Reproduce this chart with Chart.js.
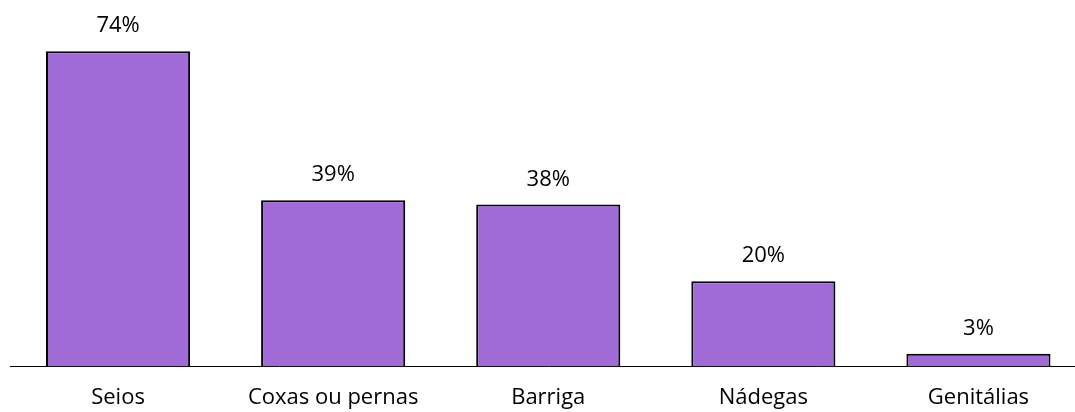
<!DOCTYPE html>
<html>
<head>
<meta charset="utf-8">
<script src="https://cdn.jsdelivr.net/npm/chart.js@4.4.1/dist/chart.umd.min.js"></script>
<style>
    html, body { margin: 0; padding: 0; background: #fff; overflow: hidden; }
    .chart-box { width: 1086px; height: 429px; }
</style>
</head>
<body>
<div class="chart-box"><canvas id="bodyChart"></canvas></div>
<script>
const categories = ['Seios', 'Coxas ou pernas', 'Barriga', 'Nádegas', 'Genitálias'];
const percentValues = [74, 39, 38, 20, 3];

const FONT = '"Open Sans", "DejaVu Sans", sans-serif';

// writes the "NN%" over every bar
const valueLabels = {
    id: 'valueLabels',
    afterDatasetsDraw(chart) {
        const ctx = chart.ctx;
        const meta = chart.getDatasetMeta(0);
        ctx.save();
        ctx.font = '22px ' + FONT;
        ctx.fillStyle = '#000';
        ctx.textAlign = 'center';
        ctx.textBaseline = 'alphabetic';
        meta.data.forEach((bar, i) => {
            ctx.fillText(percentValues[i] + '%', bar.x, bar.y - 19);
        });
        ctx.restore();
    }
};

const ctx = document.querySelector('#bodyChart');
new Chart(ctx, {
    type: 'bar',
    data: {
        labels: categories,
        datasets: [{
            data: percentValues,
            backgroundColor: '#A06AD7',
            borderColor: '#000',
            borderWidth: 2,
            borderSkipped: 'bottom',
            barPercentage: 0.67,
            categoryPercentage: 1
        }]
    },
    options: {
        responsive: true,
        maintainAspectRatio: false,
        animation: false,
        layout: { padding: { left: 10.5, right: 0, top: 0, bottom: 0 } },
        plugins: {
            legend: { display: false },
            tooltip: { enabled: false }
        },
        scales: {
            y: {
                display: false,
                min: 0,
                max: 86
            },
            x: {
                grid: { display: false, drawTicks: false },
                border: { display: true, color: '#000', width: 1 },
                ticks: {
                    color: '#000',
                    padding: 18,
                    font: { family: FONT, size: 22 }
                }
            }
        }
    },
    plugins: [valueLabels]
});
</script>
</body>
</html>
